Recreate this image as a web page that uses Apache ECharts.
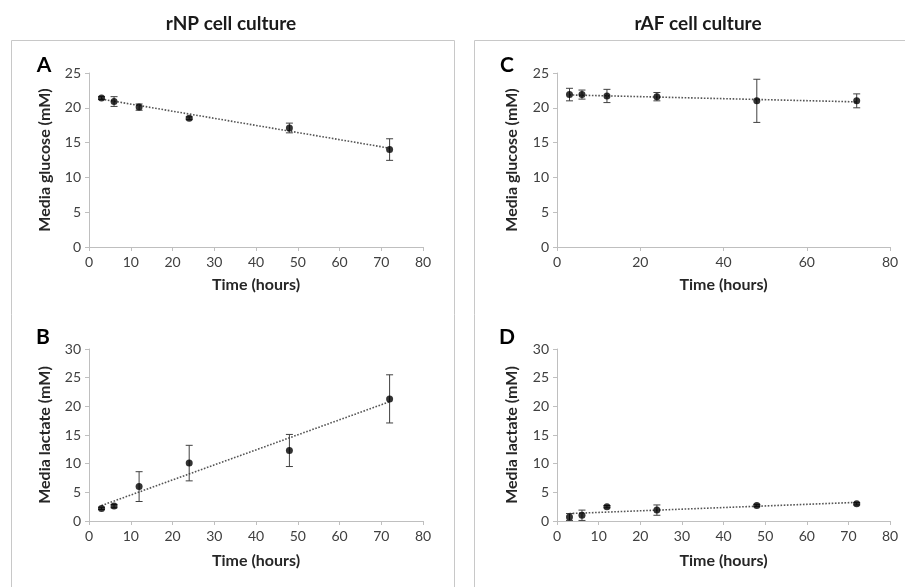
<!DOCTYPE html>
<html>
<head>
<meta charset="utf-8">
<script src="https://cdn.jsdelivr.net/npm/echarts@6/dist/echarts.min.js"></script>
<style>html,body{margin:0;padding:0;background:#fff;}#c{width:905px;height:587px;}</style>
</head>
<body>
<div id="c"></div>
<script>
// ---- data ----
const timeHours = [3, 6, 12, 24, 48, 72];

const glucoseNP = [21.4, 20.9, 20.1, 18.5, 17.1, 14.0];
const glucoseNPErr = [0.2, 0.7, 0.45, 0.2, 0.7, 1.55];
const lactateNP = [2.2, 2.6, 6.0, 10.1, 12.3, 21.3];
const lactateNPErr = [0.2, 0.3, 2.6, 3.1, 2.8, 4.2];
const glucoseAF = [21.9, 21.9, 21.7, 21.6, 21.0, 21.0];
const glucoseAFErr = [0.9, 0.65, 0.95, 0.6, 3.1, 1.0];
const lactateAF = [0.7, 1.0, 2.5, 1.9, 2.7, 3.0];
const lactateAFErr = [0.6, 0.9, 0.2, 0.9, 0.2, 0.2];

// trendline endpoints (x = 3 and x = 72)
const trendX = [3, 72];
const trendGlucoseNP = [21.25, 14.2];
const trendLactateNP = [2.7, 20.8];
const trendGlucoseAF = [21.85, 20.85];
const trendLactateAF = [1.3, 3.25];

const panelTitles = ['rNP cell culture', 'rAF cell culture'];
const panelLetters = ['A', 'B', 'C', 'D'];
const yNames = ['Media glucose (mM)', 'Media lactate (mM)', 'Media glucose (mM)', 'Media lactate (mM)'];
const xName = 'Time (hours)';

// ---- chart ----
const FONT = 'Lato, "Open Sans", sans-serif';
const grids = [
  {left: 89, top: 73, width: 334, height: 174},
  {left: 89, top: 349, width: 334, height: 172},
  {left: 557, top: 73, width: 333, height: 174},
  {left: 557, top: 349, width: 333, height: 172}
];
const yMax = [25, 30, 25, 30];
const yInt = [5, 5, 5, 5];
const xInt = [10, 10, 20, 10];
const yGap = [36, 36, 37, 37];
const xGap = [30, 32, 30, 32];

const axisLineStyle = {lineStyle: {color: '#bfbfbf', width: 1}};
const xAxes = grids.map((g, i) => ({
  gridIndex: i, type: 'value', min: 0, max: 80, interval: xInt[i],
  name: xName, nameLocation: 'middle', nameGap: xGap[i],
  nameTextStyle: {fontFamily: FONT, fontWeight: 'bold', fontSize: 16, color: '#262626'},
  axisLine: Object.assign({show: true}, axisLineStyle),
  axisTick: {show: true, length: 4, lineStyle: {color: '#bfbfbf'}},
  axisLabel: {fontFamily: FONT, fontSize: 14, color: '#404040', margin: 8},
  splitLine: {show: false}
}));
const yAxes = grids.map((g, i) => ({
  gridIndex: i, type: 'value', min: 0, max: yMax[i], interval: yInt[i],
  name: yNames[i], nameLocation: 'middle', nameGap: yGap[i], nameRotate: 90,
  nameTextStyle: {fontFamily: FONT, fontWeight: 'bold', fontSize: 16, color: '#262626'},
  axisLine: Object.assign({show: true}, axisLineStyle),
  axisTick: {show: true, length: 4, lineStyle: {color: '#bfbfbf'}},
  axisLabel: {fontFamily: FONT, fontSize: 14, color: '#404040', margin: 8},
  splitLine: {show: false}
}));

const values = [glucoseNP, lactateNP, glucoseAF, lactateAF];
const errs = [glucoseNPErr, lactateNPErr, glucoseAFErr, lactateAFErr];
const trends = [trendGlucoseNP, trendLactateNP, trendGlucoseAF, trendLactateAF];

const series = [];
values.forEach((vals, i) => {
  series.push({
    type: 'line', xAxisIndex: i, yAxisIndex: i, symbol: 'none', silent: true,
    data: trendX.map((x, k) => [x, trends[i][k]]),
    lineStyle: {type: 'dotted', width: 1.6, color: '#555'}, z: 2
  });
  series.push({
    type: 'custom', xAxisIndex: i, yAxisIndex: i, z: 3,
    data: timeHours.map((x, k) => [x, vals[k], errs[i][k]]),
    renderItem: function (params, api) {
      const x = api.value(0), y = api.value(1), e = api.value(2);
      const hi = api.coord([x, y + e]);
      const lo = api.coord([x, y - e]);
      const w = 3.5;
      const st = {stroke: '#404040', lineWidth: 1};
      return {type: 'group', children: [
        {type: 'line', shape: {x1: hi[0], y1: hi[1], x2: lo[0], y2: lo[1]}, style: st},
        {type: 'line', shape: {x1: hi[0] - w, y1: hi[1], x2: hi[0] + w, y2: hi[1]}, style: st},
        {type: 'line', shape: {x1: lo[0] - w, y1: lo[1], x2: lo[0] + w, y2: lo[1]}, style: st}
      ]};
    }
  });
  series.push({
    type: 'scatter', xAxisIndex: i, yAxisIndex: i, z: 4,
    symbol: 'circle', symbolSize: 7, itemStyle: {color: '#000'},
    data: timeHours.map((x, k) => [x, vals[k]])
  });
});

const graphic = [
  {type: 'rect', shape: {x: 11.5, y: 40.5, width: 443, height: 560}, style: {fill: 'none', stroke: '#c8c8c8', lineWidth: 1}, z: -1},
  {type: 'rect', shape: {x: 474.5, y: 40.5, width: 450, height: 560}, style: {fill: 'none', stroke: '#c8c8c8', lineWidth: 1}, z: -1},
  {type: 'text', x: 231, y: 24, style: {text: panelTitles[0], font: 'bold 19px ' + FONT, fill: '#1a1a1a', textAlign: 'center', textVerticalAlign: 'middle'}},
  {type: 'text', x: 698, y: 24, style: {text: panelTitles[1], font: 'bold 19px ' + FONT, fill: '#1a1a1a', textAlign: 'center', textVerticalAlign: 'middle'}},
  {type: 'text', x: 44, y: 65, style: {text: panelLetters[0], font: 'bold 21px ' + FONT, fill: '#000', textAlign: 'center', textVerticalAlign: 'middle'}},
  {type: 'text', x: 43, y: 337, style: {text: panelLetters[1], font: 'bold 21px ' + FONT, fill: '#000', textAlign: 'center', textVerticalAlign: 'middle'}},
  {type: 'text', x: 507, y: 65, style: {text: panelLetters[2], font: 'bold 21px ' + FONT, fill: '#000', textAlign: 'center', textVerticalAlign: 'middle'}},
  {type: 'text', x: 507, y: 337, style: {text: panelLetters[3], font: 'bold 21px ' + FONT, fill: '#000', textAlign: 'center', textVerticalAlign: 'middle'}}
];

const chart = echarts.init(document.getElementById('c'), null, {renderer: 'canvas'});
chart.setOption({
  animation: false,
  backgroundColor: '#fff',
  grid: grids,
  xAxis: xAxes,
  yAxis: yAxes,
  series: series,
  graphic: graphic
});
</script>
</body>
</html>
